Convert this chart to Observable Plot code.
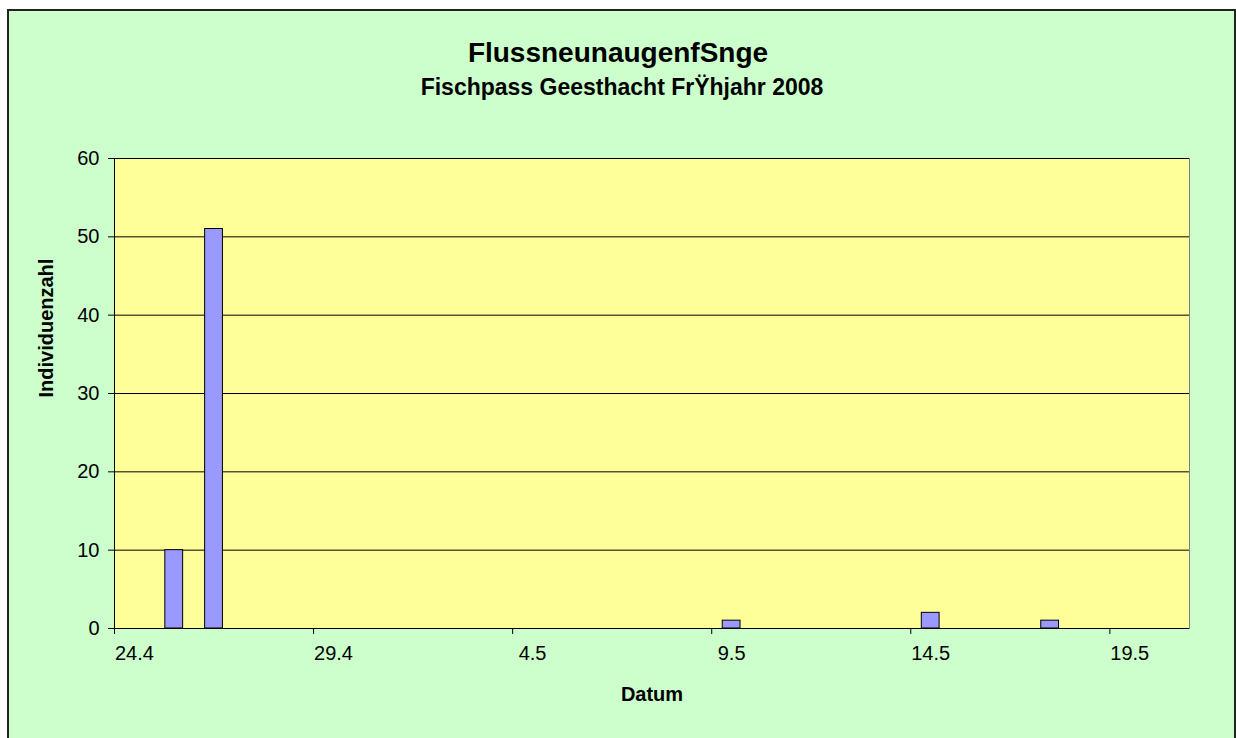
<!DOCTYPE html>
<html>
<head>
<meta charset="utf-8">
<script src="https://cdn.jsdelivr.net/npm/d3@7"></script>
<script src="https://cdn.jsdelivr.net/npm/@observablehq/plot@0.6"></script>
<style>
  html, body { margin: 0; padding: 0; background: #fff; width: 1236px; height: 738px; overflow: hidden;
    font-family: "Liberation Sans", Arial, sans-serif; }
  #bg { position: absolute; left: 7px; top: 9px; width: 1229px; height: 760px; box-sizing: border-box;
    background: #CCFFCC; border: 2px solid #222; }
  .title { position: absolute; left: 0; width: 1236px; text-align: center; font-weight: bold; color: #000; white-space: nowrap; }
  #t1 { top: 39px; font-size: 28px; line-height: 28px; }
  #t2 { top: 76px; font-size: 23px; line-height: 23px; left: 4px; }
  #plot { position: absolute; left: 0; top: 110px; }
</style>
</head>
<body>
<div id="bg"></div>
<div class="title" id="t1">FlussneunaugenfSnge</div>
<div class="title" id="t2">Fischpass Geesthacht FrŸhjahr 2008</div>
<div id="plot"></div>
<script>
// Data
const dates = ["2008-04-25", "2008-04-26", "2008-05-09", "2008-05-14", "2008-05-17"];
const counts = [10, 51, 1, 2, 1];
const xTickDates = ["2008-04-24", "2008-04-29", "2008-05-04", "2008-05-09", "2008-05-14", "2008-05-19"];
const xTickLabels = ["24.4", "29.4", "4.5", "9.5", "14.5", "19.5"];
const xDomain = ["2008-04-24", "2008-05-21"];
const yTicks = [0, 10, 20, 30, 40, 50, 60];
const yTitle = "Individuenzahl";
const xTitle = "Datum";

const parse = d3.utcParse("%Y-%m-%d");
const bars = dates.map((d, i) => ({start: parse(d), end: d3.utcDay.offset(parse(d), 1), count: counts[i]}));
const tickData = xTickDates.map((d, i) => ({date: parse(d), mid: d3.utcHour.offset(parse(d), 12), label: xTickLabels[i]}));
const domainX = xDomain.map(parse);

const chart = Plot.plot({
  width: 1236,
  height: 628,
  marginLeft: 114,
  marginRight: 47,
  marginTop: 48,
  marginBottom: 110,
  style: {background: "transparent", color: "#000", fontSize: "20px", fontFamily: "'Liberation Sans', Arial, sans-serif"},
  x: {type: "utc", domain: domainX},
  y: {domain: [0, 60]},
  marks: [
    Plot.frame({fill: "#FFFF99", stroke: "#808080"}),
    Plot.ruleY(yTicks.slice(1), {stroke: "#000", strokeWidth: 1}),
    Plot.rectY(bars, {x1: "start", x2: "end", y: "count", fill: "#9999FF", stroke: "#000", strokeWidth: 1, insetLeft: 11, insetRight: 11}),
    Plot.ruleY([0], {stroke: "#000"}),
    Plot.ruleX([domainX[0]], {stroke: "#000"}),
    Plot.axisY({ticks: yTicks, tickSize: 6, tickPadding: 9, label: null, fontSize: 20}),
    Plot.axisX({ticks: tickData.map(d => d.date), tickSize: 6, tickFormat: () => "", label: null}),
    Plot.text(tickData, {x: "mid", text: "label", frameAnchor: "bottom", dy: 31, fontSize: 20}),
    Plot.text([xTitle], {frameAnchor: "bottom", dy: 72, fontSize: 20, fontWeight: "bold"}),
    Plot.text([yTitle], {frameAnchor: "left", dx: -68, dy: 4, rotate: -90, fontSize: 20, fontWeight: "bold"})
  ]
});
document.getElementById("plot").appendChild(chart);
</script>
</body>
</html>
